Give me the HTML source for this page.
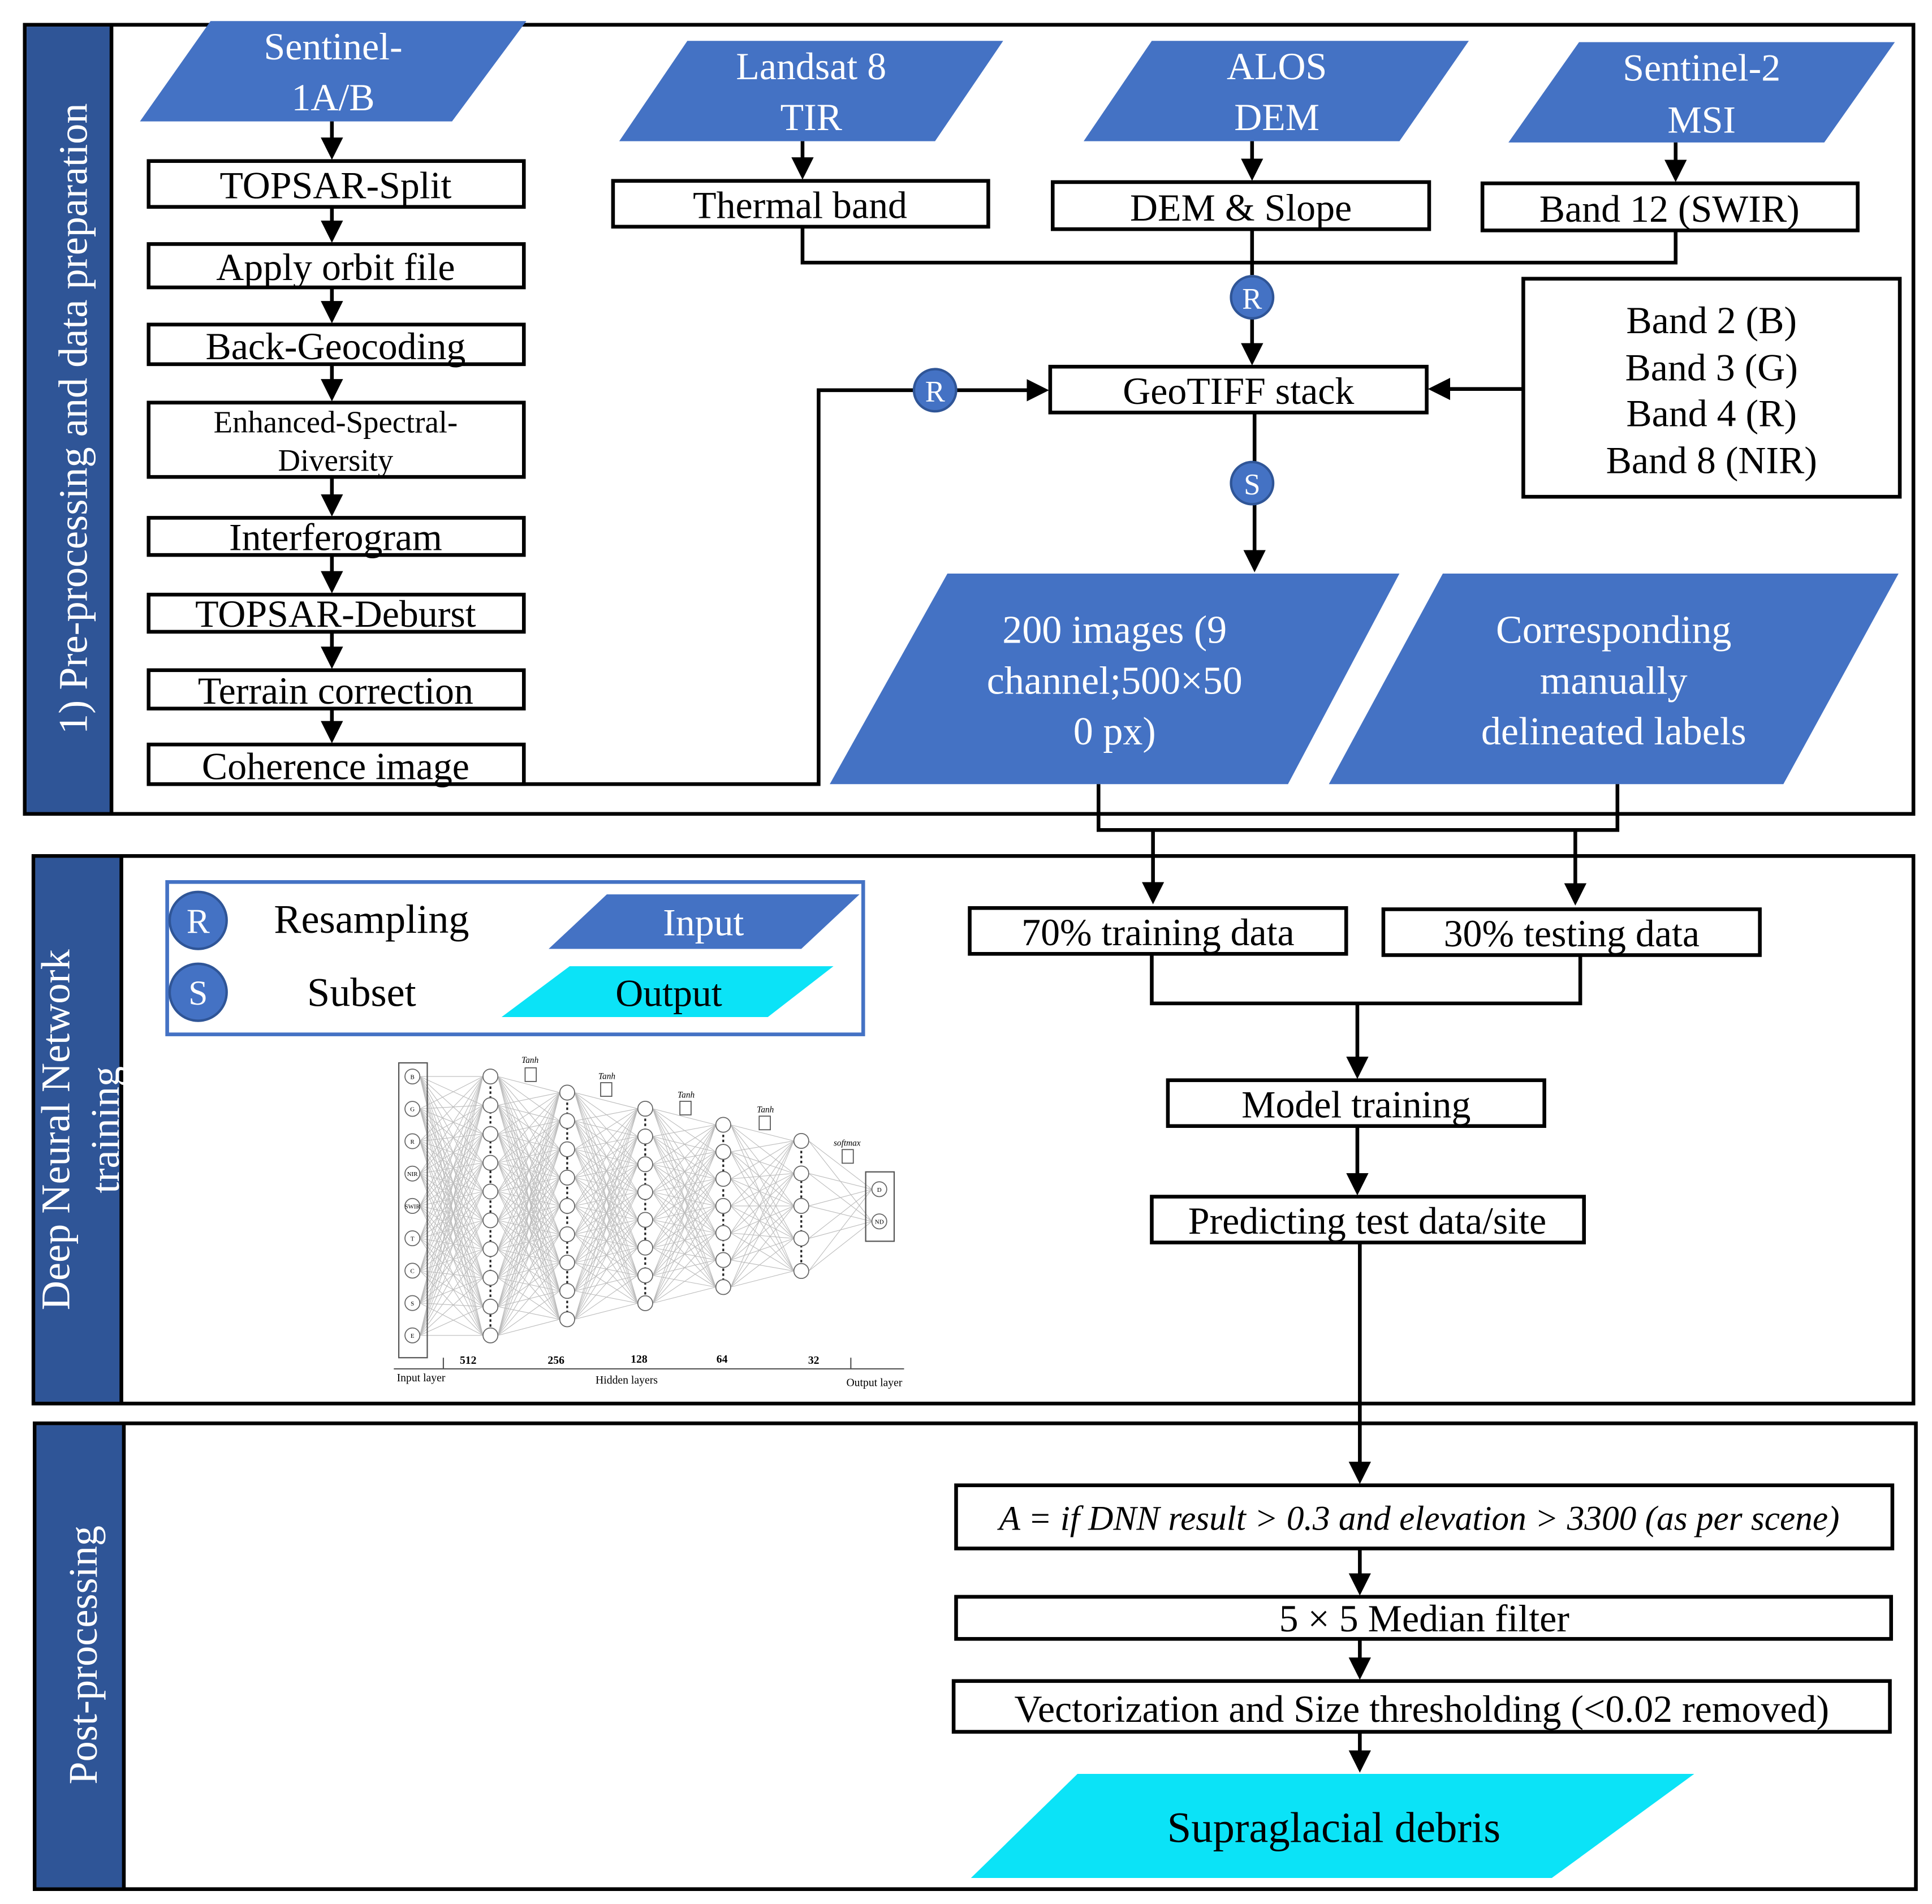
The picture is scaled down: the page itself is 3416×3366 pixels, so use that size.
<!DOCTYPE html>
<html><head><meta charset="utf-8"><style>
html,body{margin:0;padding:0;background:#fff}
svg{display:block}
text{font-family:"Liberation Serif",serif;fill:#000}
</style></head><body>
<svg id="s" width="3416" height="3366" viewBox="0 0 1560 1537" preserveAspectRatio="none" xmlns="http://www.w3.org/2000/svg">
<defs>
<marker id="a" markerWidth="6" markerHeight="6" refX="5" refY="3" orient="auto" markerUnits="strokeWidth"><path d="M0,0 L6,3 L0,6 z" fill="#000"/></marker>
</defs>
<rect width="1560" height="1537" fill="#fff"/>
<g fill="none" stroke="#000" stroke-width="3">
<rect x="20" y="20" width="1525" height="637"/>
<rect x="27" y="691" width="1518" height="442"/>
<rect x="28" y="1149" width="1519" height="376"/>
</g>
<rect x="21.5" y="21.5" width="68" height="634" fill="#2F5597"/>
<line x1="90" y1="20" x2="90" y2="657" stroke="#000" stroke-width="3"/>
<rect x="28.5" y="692.5" width="69" height="439" fill="#2F5597"/>
<line x1="98" y1="691" x2="98" y2="1133" stroke="#000" stroke-width="3"/>
<rect x="29.5" y="1150.5" width="70" height="373" fill="#2F5597"/>
<line x1="100" y1="1149" x2="100" y2="1525" stroke="#000" stroke-width="3"/>
<g style="font-size:33px">
<text transform="translate(70,338) rotate(-90)" text-anchor="middle" style="fill:#fff">1) Pre-processing and data preparation</text>
<text transform="translate(56,912) rotate(-90)" text-anchor="middle" style="fill:#fff">Deep Neural Network</text>
<text transform="translate(96,912) rotate(-90)" text-anchor="middle" style="fill:#fff">training</text>
<text transform="translate(78,1336) rotate(-90)" text-anchor="middle" style="fill:#fff">Post-processing</text>
</g>

<g fill="#4472C4">
<polygon points="170,17 425,17 365,98 113,98"/>
<polygon points="555,33 810,33 755,114 500,114"/>
<polygon points="930,33 1186,33 1130,114 875,114"/>
<polygon points="1275,34 1530,34 1473,115 1218,115"/>
<polygon points="765,463 1130,463 1040,633 670,633"/>
<polygon points="1165,463 1533,463 1440,633 1073,633"/>
<polygon points="490,722 694,722 647,766 443,766"/>
</g>
<g fill="#0BE3F7">
<polygon points="460,780 673,780 620,821 405,821"/>
<polygon points="870,1432 1368,1432 1253,1516 784,1516"/>
</g>
<g style="font-size:31px" text-anchor="middle">
<text x="269" y="48" style="fill:#fff">Sentinel-</text><text x="269" y="89" style="fill:#fff">1A/B</text>
<text x="655" y="64" style="fill:#fff">Landsat 8</text><text x="655" y="105" style="fill:#fff">TIR</text>
<text x="1031" y="64" style="fill:#fff">ALOS</text><text x="1031" y="105" style="fill:#fff">DEM</text>
<text x="1374" y="65" style="fill:#fff">Sentinel-2</text><text x="1374" y="107" style="fill:#fff">MSI</text>
<text x="900" y="519" style="fill:#fff;font-size:32px">200 images (9</text>
<text x="900" y="560" style="fill:#fff;font-size:32px">channel;500×50</text>
<text x="900" y="601" style="fill:#fff;font-size:32px">0 px)</text>
<text x="1303" y="519" style="fill:#fff;font-size:32px">Corresponding</text>
<text x="1303" y="560" style="fill:#fff;font-size:32px">manually</text>
<text x="1303" y="601" style="fill:#fff;font-size:32px">delineated labels</text>
<text x="568" y="755" style="fill:#fff">Input</text>
<text x="540" y="812">Output</text>
<text x="1077" y="1487" style="font-size:35px">Supraglacial debris</text>
</g>

<g fill="#fff" stroke="#000" stroke-width="3">
<rect x="120" y="130" width="303" height="37"/>
<rect x="120" y="197" width="303" height="35"/>
<rect x="120" y="262" width="303" height="32"/>
<rect x="120" y="325" width="303" height="60"/>
<rect x="120" y="418" width="303" height="30"/>
<rect x="120" y="480" width="303" height="30"/>
<rect x="120" y="541" width="303" height="31"/>
<rect x="120" y="601" width="303" height="32"/>
<rect x="495" y="146" width="303" height="37"/>
<rect x="850" y="147" width="304" height="38"/>
<rect x="1197" y="148" width="303" height="38"/>
<rect x="848" y="296" width="304" height="37"/>
<rect x="1230" y="225" width="304" height="176"/>
<rect x="783" y="733" width="304" height="37"/>
<rect x="1117" y="734" width="304" height="37"/>
<rect x="943" y="872" width="304" height="37"/>
<rect x="930" y="966" width="349" height="37"/>
<rect x="772" y="1199" width="756" height="51"/>
<rect x="772" y="1289" width="755" height="34"/>
<rect x="770" y="1357" width="756" height="41"/>
</g>
<rect x="135" y="712" width="562" height="123" fill="none" stroke="#4472C4" stroke-width="3"/>
<g style="font-size:31px" text-anchor="middle">
<text x="271" y="160">TOPSAR-Split</text>
<text x="271" y="226">Apply orbit file</text>
<text x="271" y="290">Back-Geocoding</text>
<text x="271" y="349" style="font-size:25px">Enhanced-Spectral-</text>
<text x="271" y="380" style="font-size:25px">Diversity</text>
<text x="271" y="444">Interferogram</text>
<text x="271" y="506">TOPSAR-Deburst</text>
<text x="271" y="568">Terrain correction</text>
<text x="271" y="629">Coherence image</text>
<text x="646" y="176">Thermal band</text>
<text x="1002" y="178">DEM &amp; Slope</text>
<text x="1348" y="179">Band 12 (SWIR)</text>
<text x="1000" y="326">GeoTIFF stack</text>
<text x="1382" y="269">Band 2 (B)</text>
<text x="1382" y="307">Band 3 (G)</text>
<text x="1382" y="344">Band 4 (R)</text>
<text x="1382" y="382">Band 8 (NIR)</text>
<text x="935" y="763">70% training data</text>
<text x="1269" y="764">30% testing data</text>
<text x="1095" y="902">Model training</text>
<text x="1104" y="996">Predicting test data/site</text>
<text x="1150" y="1317">5 × 5 Median filter</text>
<text x="1148" y="1390">Vectorization and Size thresholding (&lt;0.02 removed)</text>
<text x="1146" y="1235" style="font-size:28px;font-style:italic">A = if DNN result &gt; 0.3 and elevation &gt; 3300 (as per scene)</text>
<text x="300" y="753" style="font-size:33px">Resampling</text>
<text x="292" y="812" style="font-size:33px">Subset</text>
</g>

<g stroke="#000" stroke-width="3" fill="none">
<line x1="268" y1="98" x2="268" y2="126" marker-end="url(#a)"/>
<line x1="268" y1="167" x2="268" y2="193" marker-end="url(#a)"/>
<line x1="268" y1="232" x2="268" y2="258" marker-end="url(#a)"/>
<line x1="268" y1="294" x2="268" y2="321" marker-end="url(#a)"/>
<line x1="268" y1="385" x2="268" y2="414" marker-end="url(#a)"/>
<line x1="268" y1="448" x2="268" y2="476" marker-end="url(#a)"/>
<line x1="268" y1="510" x2="268" y2="537" marker-end="url(#a)"/>
<line x1="268" y1="572" x2="268" y2="597" marker-end="url(#a)"/>
<line x1="648" y1="114" x2="648" y2="142" marker-end="url(#a)"/>
<line x1="1011" y1="114" x2="1011" y2="143" marker-end="url(#a)"/>
<line x1="1353" y1="115" x2="1353" y2="144" marker-end="url(#a)"/>
<polyline points="648,183 648,212 1353,212 1353,186"/>
<line x1="1011" y1="185" x2="1011" y2="222"/>
<line x1="1011" y1="257" x2="1011" y2="292" marker-end="url(#a)"/>
<line x1="1230" y1="314" x2="1156" y2="314" marker-end="url(#a)"/>
<polyline points="423,633 661,633 661,315 738,315"/>
<line x1="772" y1="315" x2="844" y2="315" marker-end="url(#a)"/>
<line x1="1013" y1="333" x2="1013" y2="373"/>
<line x1="1013" y1="407" x2="1013" y2="459" marker-end="url(#a)"/>
<polyline points="887,633 887,670 1306,670 1306,633"/>
<line x1="931" y1="670" x2="931" y2="727" marker-end="url(#a)"/>
<line x1="1272" y1="670" x2="1272" y2="728" marker-end="url(#a)"/>
<polyline points="930,770 930,810 1276,810 1276,771"/>
<line x1="1096" y1="810" x2="1096" y2="868" marker-end="url(#a)"/>
<line x1="1096" y1="909" x2="1096" y2="962" marker-end="url(#a)"/>
<line x1="1098" y1="1003" x2="1098" y2="1195" marker-end="url(#a)"/>
<line x1="1098" y1="1250" x2="1098" y2="1285" marker-end="url(#a)"/>
<line x1="1098" y1="1323" x2="1098" y2="1353" marker-end="url(#a)"/>
<line x1="1098" y1="1398" x2="1098" y2="1428" marker-end="url(#a)"/>
</g>

<g fill="#4472C4" stroke="#2F5597" stroke-width="2">
<circle cx="1011" cy="240" r="17"/>
<circle cx="755" cy="315" r="17"/>
<circle cx="1011" cy="390" r="17"/>
<circle cx="160" cy="743" r="23"/>
<circle cx="160" cy="801" r="23"/>
</g>
<g text-anchor="middle" style="font-size:24px">
<text x="1011" y="249" style="fill:#fff">R</text>
<text x="755" y="324" style="fill:#fff">R</text>
<text x="1011" y="399" style="fill:#fff">S</text>
<text x="160" y="753" style="fill:#fff;font-size:28px">R</text>
<text x="160" y="811" style="fill:#fff;font-size:28px">S</text>
</g>

<g id="nn"></g>
<g fill="none" stroke="#555" stroke-width="1">
<rect x="322" y="858" width="23" height="238"/>
<rect x="699" y="946" width="23" height="56"/>
<line x1="318" y1="1105" x2="730" y2="1105"/>
<line x1="358" y1="1096" x2="358" y2="1105"/>
<line x1="687" y1="1096" x2="687" y2="1105"/>
</g>
<g style="font-size:9px" text-anchor="middle" fill="#333">
<text x="378" y="1101" style="font-weight:bold">512</text>
<text x="449" y="1101" style="font-weight:bold">256</text>
<text x="516" y="1100" style="font-weight:bold">128</text>
<text x="583" y="1100" style="font-weight:bold">64</text>
<text x="657" y="1101" style="font-weight:bold">32</text>
<text x="340" y="1115">Input layer</text>
<text x="506" y="1117">Hidden layers</text>
<text x="706" y="1119">Output layer</text>
<text x="428" y="858" style="font-style:italic;font-size:7px">Tanh</text>
<text x="490" y="871" style="font-style:italic;font-size:7px">Tanh</text>
<text x="554" y="886" style="font-style:italic;font-size:7px">Tanh</text>
<text x="618" y="898" style="font-style:italic;font-size:7px">Tanh</text>
<text x="684" y="925" style="font-style:italic;font-size:7px">softmax</text>
</g>
<g fill="none" stroke="#555" stroke-width="0.8">
<rect x="424" y="862" width="9" height="11"/>
<rect x="485" y="874" width="9" height="11"/>
<rect x="549" y="889" width="9" height="11"/>
<rect x="613" y="901" width="9" height="11"/>
<rect x="680" y="928" width="9" height="11"/>
</g>
</svg>
<script>
(function(){
var L=[[333,869,1078,9],[396,869,1078,10],[458,882,1065,9],[521,895,1052,8],[584,908,1039,7],[647,921,1026,5],[710,960,986,2]];
var g=document.getElementById('nn'),h='';
var P=L.map(function(l){var a=[];for(var i=0;i<l[3];i++)a.push([l[0],l[3]>1?l[1]+(l[2]-l[1])*i/(l[3]-1):l[1]]);return a;});
for(var k=0;k<P.length-1;k++)for(var i=0;i<P[k].length;i++)for(var j=0;j<P[k+1].length;j++)
h+='<line x1="'+(P[k][i][0]+6)+'" y1="'+P[k][i][1]+'" x2="'+(P[k+1][j][0]-6)+'" y2="'+P[k+1][j][1]+'" stroke="#bbb" stroke-width="0.5"/>';
for(var k=1;k<6;k++)h+='<line x1="'+P[k][0][0]+'" y1="'+P[k][0][1]+'" x2="'+P[k][0][0]+'" y2="'+P[k][P[k].length-1][1]+'" stroke="#222" stroke-width="1.5" stroke-dasharray="2,2"/>';
var lab=['B','G','R','NIR','SWIR','T','C','S','E'];
P.forEach(function(a,k){a.forEach(function(p,i){h+='<circle cx="'+p[0]+'" cy="'+p[1]+'" r="6" fill="#fff" stroke="#666" stroke-width="0.8"/>';
if(k==0)h+='<text x="'+p[0]+'" y="'+(p[1]+2)+'" text-anchor="middle" style="font-size:5px">'+lab[i]+'</text>';
if(k==6)h+='<text x="'+p[0]+'" y="'+(p[1]+2)+'" text-anchor="middle" style="font-size:5px">'+(i?'ND':'D')+'</text>';});});
g.innerHTML=h;
})();
</script>
</body></html>
